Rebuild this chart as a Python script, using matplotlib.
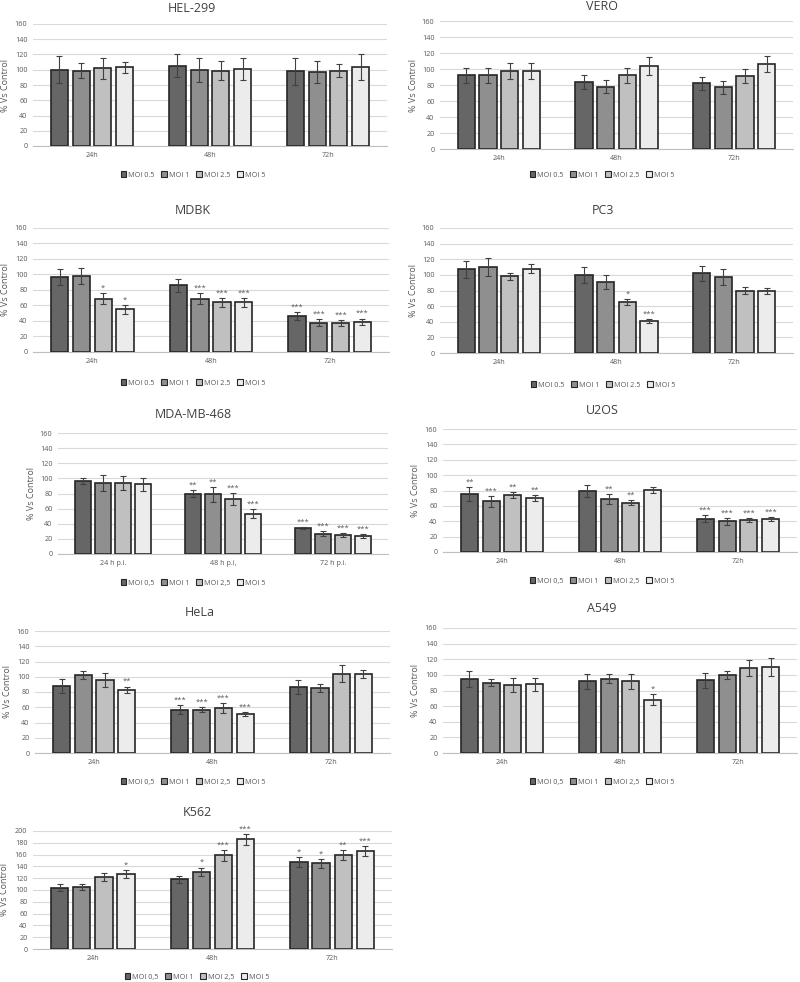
import matplotlib
matplotlib.use('Agg')
import matplotlib.pyplot as plt
import matplotlib.patches as mpatches
import numpy as np

plt.rcParams['font.family'] = ['Open Sans', 'DejaVu Sans']

# ── data ──────────────────────────────────────────────────────────────────
TIMES = ['24h', '48h', '72h']
TIMES_PI = ['24 h p.i.', '48 h p.i,', '72 h p.i.']
MOI_DOT = ['MOI 0.5', 'MOI 1', 'MOI 2.5', 'MOI 5']
MOI_COMMA = ['MOI 0,5', 'MOI 1', 'MOI 2,5', 'MOI 5']

# rows = time points, cols = MOI 0.5, 1, 2.5, 5
hel_mean = [[100, 99, 102, 103], [105, 100, 99, 101], [98, 97, 99, 104]]
hel_err = [[18, 10, 14, 7], [15, 16, 13, 14], [18, 14, 9, 17]]
hel_star = [['', '', '', ''], ['', '', '', ''], ['', '', '', '']]

vero_mean = [[92, 92, 97, 97], [84, 78, 92, 104], [82, 77, 91, 106]]
vero_err = [[9, 9, 10, 10], [9, 8, 9, 11], [8, 8, 9, 10]]
vero_star = [['', '', '', ''], ['', '', '', ''], ['', '', '', '']]

mdbk_mean = [[97, 98, 69, 55], [86, 69, 64, 64], [46, 38, 37, 39]]
mdbk_err = [[10, 10, 7, 6], [8, 7, 6, 6], [5, 4, 4, 4]]
mdbk_star = [['', '', '*', '*'], ['', '***', '***', '***'], ['***', '***', '***', '***']]

pc3_mean = [[107, 110, 98, 108], [100, 91, 65, 41], [102, 97, 80, 79]]
pc3_err = [[11, 11, 5, 6], [10, 9, 4, 2], [10, 10, 4, 4]]
pc3_star = [['', '', '', ''], ['', '', '*', '***'], ['', '', '', '']]

mda_mean = [[96, 94, 94, 92], [80, 79, 73, 53], [34, 27, 25, 24]]
mda_err = [[4, 11, 9, 9], [4, 10, 8, 6], [1.5, 3.5, 3, 2.5]]
mda_star = [['', '', '', ''], ['**', '**', '***', '***'], ['***', '***', '***', '***']]

u2os_mean = [[75, 66, 74, 70], [79, 69, 64, 81], [43, 40, 42, 43]]
u2os_err = [[9, 7, 4, 3.5], [8, 6.5, 3, 4], [4.5, 4.5, 2.5, 2.5]]
u2os_star = [['**', '***', '**', '**'], ['', '**', '**', ''], ['***', '***', '***', '***']]

hela_mean = [[88, 102, 96, 83], [57, 57, 59, 51], [87, 85, 104, 104]]
hela_err = [[9, 5, 9, 4], [6, 3, 6, 2.5], [9, 5, 11, 5]]
hela_star = [['', '', '', '**'], ['***', '***', '***', '***'], ['', '', '', '']]

a549_mean = [[95, 90, 87, 88], [92, 95, 92, 68], [93, 100, 109, 110]]
a549_err = [[10, 4.5, 9, 8.5], [9.5, 5.5, 9.5, 7], [10, 5, 10.5, 11]]
a549_star = [['', '', '', ''], ['', '', '', '*'], ['', '', '', '']]

k562_mean = [[104, 105, 122, 127], [118, 131, 159, 186], [147, 145, 159, 166]]
k562_err = [[5.5, 5, 6, 6.5], [5.5, 7, 9, 9.5], [8.5, 7, 8, 9]]
k562_star = [['', '', '', '*'], ['', '*', '***', '***'], ['*', '*', '**', '***']]

# ── style ─────────────────────────────────────────────────────────────────
COLORS = ['#666666', '#8f8f8f', '#c0c0c0', '#ececec']
EDGE = '#262626'
GRID = '#d9d9d9'
TXT = '#595959'

W, H = 800, 982
fig = plt.figure(figsize=(W / 100, H / 100), dpi=100)
fig.patch.set_facecolor('white')


def px_rect(left, top, width, height):
    return [left / W, 1 - (top + height) / H, width / W, height / H]


def panel(title, mean, err, star, xlabels, moi, ymax, rect, title_xy, leg_xy, ylab_x):
    ax = fig.add_axes(px_rect(*rect))
    mean = np.array(mean, dtype=float)
    err = np.array(err, dtype=float)
    x = np.arange(len(xlabels))
    step, bw = 0.184, 0.145
    for j in range(4):
        xs = x + (j - 1.5) * step
        ax.bar(xs, mean[:, j], width=bw, color=COLORS[j], edgecolor=EDGE,
               linewidth=1.2, zorder=3)
        ax.errorbar(xs, mean[:, j], yerr=err[:, j], fmt='none', ecolor='#404040',
                    elinewidth=0.8, capsize=2, capthick=0.8, zorder=4)
        for i in range(len(x)):
            if star[i][j]:
                ax.text(xs[i], mean[i, j] + err[i, j] + ymax * 0.012, star[i][j],
                        ha='center', va='bottom', fontsize=5.5, color=TXT, zorder=5)
    ax.set_xlim(-0.5, len(x) - 0.5)
    ax.set_ylim(0, ymax)
    ax.set_yticks(np.arange(0, ymax + 1, 20))
    ax.set_xticks(x)
    ax.set_xticklabels(xlabels)
    ax.tick_params(length=0, labelsize=5.2, labelcolor=TXT, pad=4)
    ax.grid(axis='y', color=GRID, linewidth=0.8, zorder=0)
    for s in ('top', 'right', 'left'):
        ax.spines[s].set_visible(False)
    ax.spines['bottom'].set_color('#bfbfbf')
    ax.spines['bottom'].set_zorder(2)

    fig.text(title_xy[0] / W, 1 - title_xy[1] / H, title, ha='center', va='center',
             fontsize=9, color='#404040')
    fig.text(ylab_x / W, 1 - (rect[1] + rect[3] / 2) / H, '% Vs Control', rotation=90,
             ha='center', va='center', fontsize=6.5, color=TXT)
    handles = [mpatches.Patch(facecolor=COLORS[j], edgecolor=EDGE, linewidth=0.8,
                              label=moi[j]) for j in range(4)]
    fig.legend(handles=handles, loc='center', ncol=4, frameon=False,
               bbox_to_anchor=(leg_xy[0] / W, 1 - leg_xy[1] / H),
               fontsize=5.2, labelcolor=TXT, handlelength=0.8, handleheight=0.8,
               handletextpad=0.3, columnspacing=0.9, borderaxespad=0)
    return ax


panel('HEL-299', hel_mean, hel_err, hel_star, TIMES, MOI_DOT, 160,
      (33, 24, 354, 122), (192, 8), (193, 175), 6)
panel('VERO', vero_mean, vero_err, vero_star, TIMES, MOI_DOT, 160,
      (440, 21, 353, 128), (602, 6), (602, 175), 414)
panel('MDBK', mdbk_mean, mdbk_err, mdbk_star, TIMES, MOI_DOT, 160,
      (33, 228, 356, 124), (193, 210), (193, 383), 6)
panel('PC3', pc3_mean, pc3_err, pc3_star, TIMES, MOI_DOT, 160,
      (440, 228, 353, 125), (603, 210), (603, 385), 413)
panel('MDA-MB-468', mda_mean, mda_err, mda_star, TIMES_PI, MOI_COMMA, 160,
      (58, 433, 330, 121), (193, 415), (193, 583), 32)
panel('U2OS', u2os_mean, u2os_err, u2os_star, TIMES, MOI_COMMA, 160,
      (443, 429, 354, 123), (602, 411), (602, 581), 415)
panel('HeLa', hela_mean, hela_err, hela_star, TIMES, MOI_COMMA, 160,
      (35, 631, 355, 122), (200, 613), (193, 782), 7)
panel('A549', a549_mean, a549_err, a549_star, TIMES, MOI_COMMA, 160,
      (443, 628, 354, 125), (602, 608), (602, 782), 415)
panel('K562', k562_mean, k562_err, k562_star, TIMES, MOI_COMMA, 200,
      (33, 831, 359, 118), (197, 813), (197, 977), 5)

fig.savefig('out.png', dpi=100, facecolor='white')
